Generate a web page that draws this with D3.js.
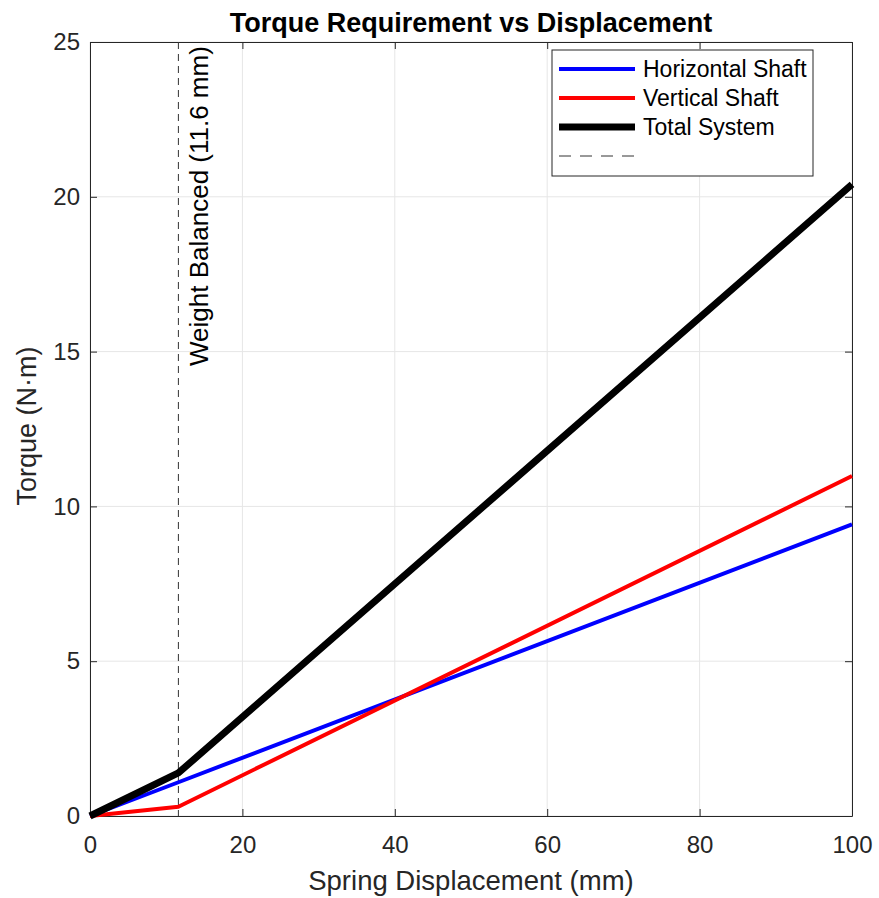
<!DOCTYPE html>
<html>
<head>
<meta charset="utf-8">
<script src="https://cdn.jsdelivr.net/npm/d3@7"></script>
<style>
  body { margin: 0; background: #fff; }
  svg { font-family: "Liberation Sans", Arial, sans-serif; }
</style>
</head>
<body>
<svg id="chart" width="879" height="898"></svg>
<script>
// Displacement breakpoints (mm)
const displacement = [0, 11.6, 100];
// Torque for each shaft (N·m)
const horizontalTorque = [0, 1.09, 9.42];
const verticalTorque = [0, 0.3, 10.98];
const totalTorque = [0, 1.39, 20.4];

const balancePoint = 11.6;
const xTicks = [0, 20, 40, 60, 80, 100];
const yTicks = [0, 5, 10, 15, 20, 25];

const seriesNames = ["Horizontal Shaft", "Vertical Shaft", "Total System"];
const seriesColors = ["#0000ff", "#ff0000", "#000000"];
const seriesWidths = [4, 4, 7];

const margin = { top: 42, right: 27, bottom: 82, left: 90 },
      width = 879 - margin.left - margin.right,
      height = 898 - margin.top - margin.bottom;

const svg = d3.select("#chart");
const g = svg.append("g").attr("transform", `translate(${margin.left},${margin.top})`);

const x = d3.scaleLinear().domain([0, 100]).range([0, width]);
const y = d3.scaleLinear().domain([0, 25]).range([height, 0]);

// grid
g.append("g").selectAll("line").data(xTicks).join("line")
  .attr("x1", d => x(d)).attr("x2", d => x(d))
  .attr("y1", 0).attr("y2", height)
  .attr("stroke", "#e6e6e6").attr("stroke-width", 1);
g.append("g").selectAll("line").data(yTicks).join("line")
  .attr("y1", d => y(d)).attr("y2", d => y(d))
  .attr("x1", 0).attr("x2", width)
  .attr("stroke", "#e6e6e6").attr("stroke-width", 1);

// axes
const axisColor = "#262626";
const xAxis = g.append("g").attr("transform", `translate(0,${height})`)
  .call(d3.axisBottom(x).tickValues(xTicks).tickSizeInner(-7).tickSizeOuter(0).tickPadding(20));
const yAxis = g.append("g")
  .call(d3.axisLeft(y).tickValues(yTicks).tickSizeInner(-7).tickSizeOuter(0).tickPadding(10));
const xTop = g.append("g")
  .call(d3.axisTop(x).tickValues(xTicks).tickSizeInner(-7).tickSizeOuter(0).tickFormat(""));
const yRight = g.append("g").attr("transform", `translate(${width},0)`)
  .call(d3.axisRight(y).tickValues(yTicks).tickSizeInner(-7).tickSizeOuter(0).tickFormat(""));
[xAxis, yAxis, xTop, yRight].forEach(a => {
  a.select(".domain").attr("stroke", axisColor).attr("stroke-width", 1);
  a.selectAll(".tick line").attr("stroke", axisColor);
  a.selectAll(".tick text").attr("fill", axisColor).style("font-size", "24px")
    .style("font-family", "Liberation Sans, Arial, sans-serif");
});

// balance marker
g.append("line")
  .attr("x1", x(balancePoint)).attr("x2", x(balancePoint))
  .attr("y1", 0).attr("y2", height)
  .attr("stroke", "#333").attr("stroke-width", 1)
  .attr("stroke-dasharray", "7,5");
g.append("text")
  .attr("transform", `translate(${x(balancePoint) + 30},${366 - margin.top}) rotate(-90)`)
  .attr("fill", "#000")
  .style("font-size", "26px")
  .text(`Weight Balanced (${balancePoint} mm)`);

// series
const seriesValues = [horizontalTorque, verticalTorque, totalTorque];
const line = d3.line().x(d => x(d[0])).y(d => y(d[1]));
seriesValues.forEach((vals, i) => {
  g.append("path")
    .datum(displacement.map((d, j) => [d, vals[j]]))
    .attr("fill", "none")
    .attr("stroke", seriesColors[i])
    .attr("stroke-width", seriesWidths[i])
    .attr("stroke-linejoin", "round")
    .attr("d", line);
});

// legend
const legend = svg.append("g").attr("transform", "translate(552,50)");
legend.append("rect")
  .attr("width", 261).attr("height", 126)
  .attr("fill", "#fff").attr("stroke", "#262626").attr("stroke-width", 1);
seriesNames.forEach((name, i) => {
  const ly = 19 + i * 29;
  legend.append("line")
    .attr("x1", 7).attr("x2", 83).attr("y1", ly).attr("y2", ly)
    .attr("stroke", seriesColors[i]).attr("stroke-width", seriesWidths[i]);
  legend.append("text")
    .attr("x", 91).attr("y", ly + 8)
    .style("font-size", "23px").attr("fill", "#000")
    .text(name);
});
legend.append("line")
  .attr("x1", 7).attr("x2", 83).attr("y1", 106).attr("y2", 106)
  .attr("stroke", "#333").attr("stroke-width", 1).attr("stroke-dasharray", "12,9");

// title and labels
svg.append("text")
  .attr("x", margin.left + width / 2).attr("y", 32)
  .attr("text-anchor", "middle")
  .style("font-size", "27px").style("font-weight", "bold")
  .text("Torque Requirement vs Displacement");
svg.append("text")
  .attr("x", margin.left + width / 2).attr("y", 890)
  .attr("text-anchor", "middle").attr("fill", axisColor)
  .style("font-size", "27.5px")
  .text("Spring Displacement (mm)");
svg.append("text")
  .attr("transform", `translate(36,${margin.top + height / 2 - 3}) rotate(-90)`)
  .attr("text-anchor", "middle").attr("fill", axisColor)
  .style("font-size", "27px")
  .text("Torque (N·m)");
</script>
</body>
</html>
